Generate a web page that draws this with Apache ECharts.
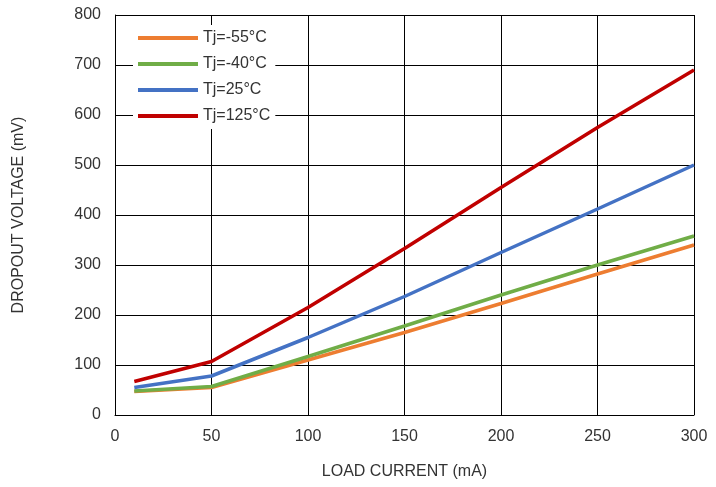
<!DOCTYPE html>
<html lang="en">
<head>
    <meta charset="UTF-8">
    <title>Dropout Voltage</title>
    <script src="https://cdn.jsdelivr.net/npm/echarts@6/dist/echarts.min.js"></script>
    <style>
        html, body { margin: 0; padding: 0; background: #fff; }
        #chart { width: 716px; height: 487px; }
    </style>
</head>
<body>
    <div id="chart"></div>
    <script>
        var loadCurrent = [10, 50, 100, 150, 200, 250, 300];
        var tjm55 = [47, 55, 110, 165, 223, 282, 340];
        var tjm40 = [48, 57, 117, 178, 240, 300, 358];
        var tj25 = [55, 78, 155, 237, 325, 412, 500];
        var tj125 = [67, 107, 215, 333, 455, 575, 690];
        var seriesNames = ['Tj=-55°C', 'Tj=-40°C', 'Tj=25°C', 'Tj=125°C'];
        var seriesColors = ['#ED7D31', '#70AD47', '#4472C4', '#C00000'];
        var seriesData = [tjm55, tjm40, tj25, tj125];

        function pairs(values) {
            return loadCurrent.map(function (x, i) { return [x, values[i]]; });
        }

        var chart = echarts.init(document.getElementById('chart'));
        var textColor = '#333';
        var font = 'Liberation Sans, Arial, sans-serif';
        var option = {
            animation: false,
            textStyle: { fontFamily: font },
            grid: { left: 115, right: 22, top: 15, bottom: 72 },
            legend: {
                orient: 'vertical',
                left: 133,
                top: 25,
                itemWidth: 60,
                itemHeight: 4,
                itemGap: 10,
                icon: 'rect',
                backgroundColor: '#fff',
                textStyle: { fontSize: 16, color: textColor, fontFamily: font },
                data: seriesNames
            },
            xAxis: {
                type: 'value',
                min: 0, max: 300, interval: 50,
                name: 'LOAD CURRENT (mA)',
                nameLocation: 'middle',
                nameGap: 49,
                nameTextStyle: { fontSize: 16, color: textColor },
                axisLine: { lineStyle: { color: '#000', width: 1 } },
                axisTick: { show: false },
                splitLine: { show: true, lineStyle: { color: '#000', width: 1 } },
                axisLabel: { fontSize: 16, color: textColor, margin: 14 }
            },
            yAxis: {
                type: 'value',
                min: 0, max: 800, interval: 100,
                name: 'DROPOUT VOLTAGE (mV)',
                nameLocation: 'middle',
                nameGap: 88,
                nameTextStyle: { fontSize: 16, color: textColor },
                axisLine: { show: true, lineStyle: { color: '#000', width: 1 } },
                axisTick: { show: false },
                splitLine: { show: true, lineStyle: { color: '#000', width: 1 } },
                axisLabel: { fontSize: 16, color: textColor, margin: 14 }
            },
            series: seriesNames.map(function (name, i) {
                return {
                    name: name,
                    type: 'line',
                    data: pairs(seriesData[i]),
                    showSymbol: false,
                    color: seriesColors[i],
                    lineStyle: { width: 3.5, color: seriesColors[i] }
                };
            })
        };
        chart.setOption(option);
    </script>
</body>
</html>
